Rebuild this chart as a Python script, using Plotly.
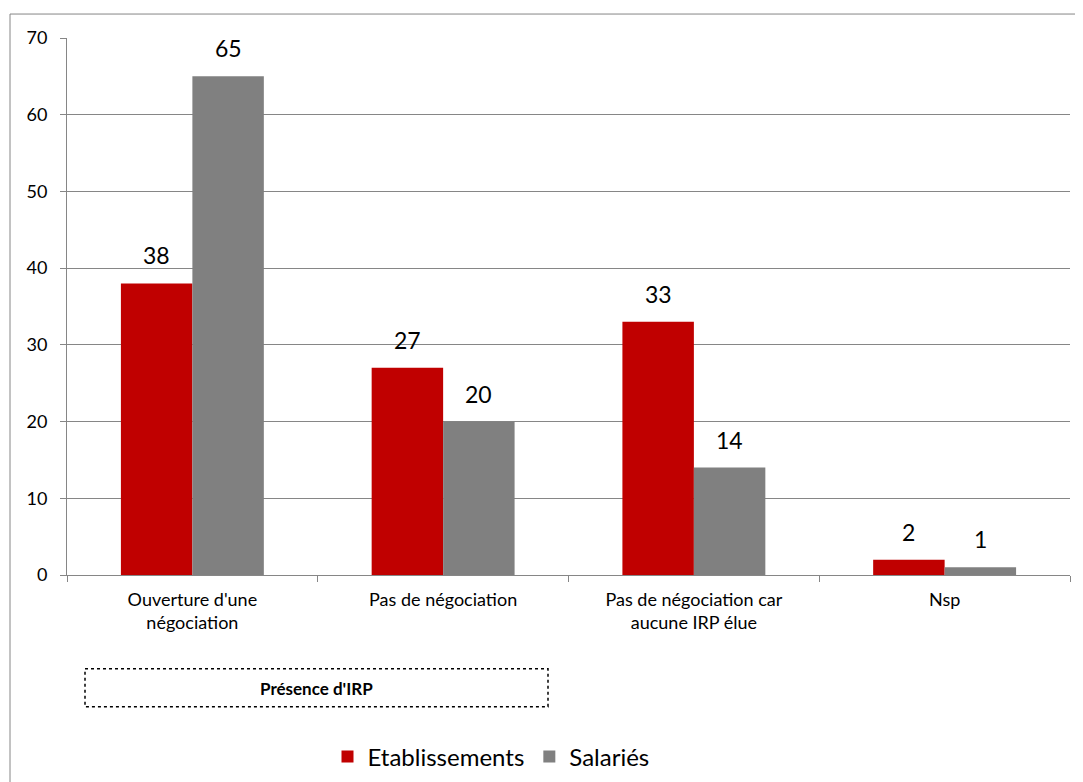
import plotly.graph_objects as go

categories = ["Ouverture d'une<br>négociation", "Pas de négociation",
              "Pas de négociation car<br>aucune IRP élue", "Nsp"]
etablissements = [38, 27, 33, 2]
salaries = [65, 20, 14, 1]
y_ticks = [0, 10, 20, 30, 40, 50, 60, 70]

FONT = "Lato, Open Sans, sans-serif"
OFF = 8  # page body margin
W, H = 1083, 782
# plot area in page pixels: x 67..1070, y 38..576
L = 67 - OFF
T = 38 - OFF
R = W - (1070 - OFF)
B = H - (576 - OFF)
pw, ph = W - L - R, H - T - B

def px_x(px):
    return (px - OFF - L) / pw

def px_y(py):
    return (H - B - (py - OFF)) / ph

RED = "#C00000"
GRAY = "#808080"

fig = go.Figure()
fig.add_trace(go.Bar(x=categories, y=etablissements, name="Etablissements",
                     marker=dict(color=RED, line=dict(width=0))))
fig.add_trace(go.Bar(x=categories, y=salaries, name="Salariés",
                     marker=dict(color=GRAY, line=dict(width=0))))

half = pw / 4 * (1 - 0.43) / 4  # half of one bar width in px
annotations = []
for c, v in zip(categories, etablissements):
    annotations.append(dict(x=c, y=v, xref="x", yref="y", text=str(v), showarrow=False,
                            xshift=-half, yshift=12, yanchor="bottom",
                            font=dict(size=23, color="#000000")))
for c, v in zip(categories, salaries):
    annotations.append(dict(x=c, y=v, xref="x", yref="y", text=str(v), showarrow=False,
                            xshift=half, yshift=12, yanchor="bottom",
                            font=dict(size=23, color="#000000")))
annotations.append(dict(text="<b>Présence d'IRP</b>", xref="paper", yref="paper",
                        x=px_x(316), y=px_y(690), xanchor="center", yanchor="middle",
                        showarrow=False, font=dict(size=17, color="#000000")))

fig.update_layout(
    width=W, height=H,
    margin=dict(l=L, r=R, t=T, b=B),
    paper_bgcolor="white", plot_bgcolor="white",
    barmode="group", bargap=0.43, bargroupgap=0,
    font=dict(family=FONT, color="#000000"),
    showlegend=True,
    legend=dict(orientation="h", x=px_x(491), xanchor="center",
                y=px_y(757), yanchor="middle",
                font=dict(size=24), itemwidth=30, traceorder="normal"),
    xaxis=dict(showgrid=False, showline=True, linecolor="#868686", linewidth=1,
               ticks="outside", tickson="boundaries", ticklen=6, tickcolor="#868686",
               tickfont=dict(size=18), ticklabelstandoff=8, fixedrange=True),
    yaxis=dict(range=[0, 70], tickvals=y_ticks, showgrid=True, gridcolor="#868686",
               gridwidth=1, showline=True, linecolor="#868686", linewidth=1,
               ticks="outside", ticklen=6, tickcolor="#868686",
               tickfont=dict(size=18), ticklabelstandoff=9, zeroline=False),
    shapes=[
        dict(type="rect", xref="paper", yref="paper",
             x0=px_x(10), x1=px_x(1100), y0=px_y(14), y1=px_y(800),
             line=dict(color="#868686", width=1), fillcolor="rgba(0,0,0,0)"),
        dict(type="rect", xref="paper", yref="paper",
             x0=px_x(85), x1=px_x(548), y0=px_y(670), y1=px_y(708),
             line=dict(color="#000000", width=1.5, dash="dot"),
             fillcolor="rgba(0,0,0,0)"),
    ],
    annotations=annotations,
)

fig.write_html("out.html")
